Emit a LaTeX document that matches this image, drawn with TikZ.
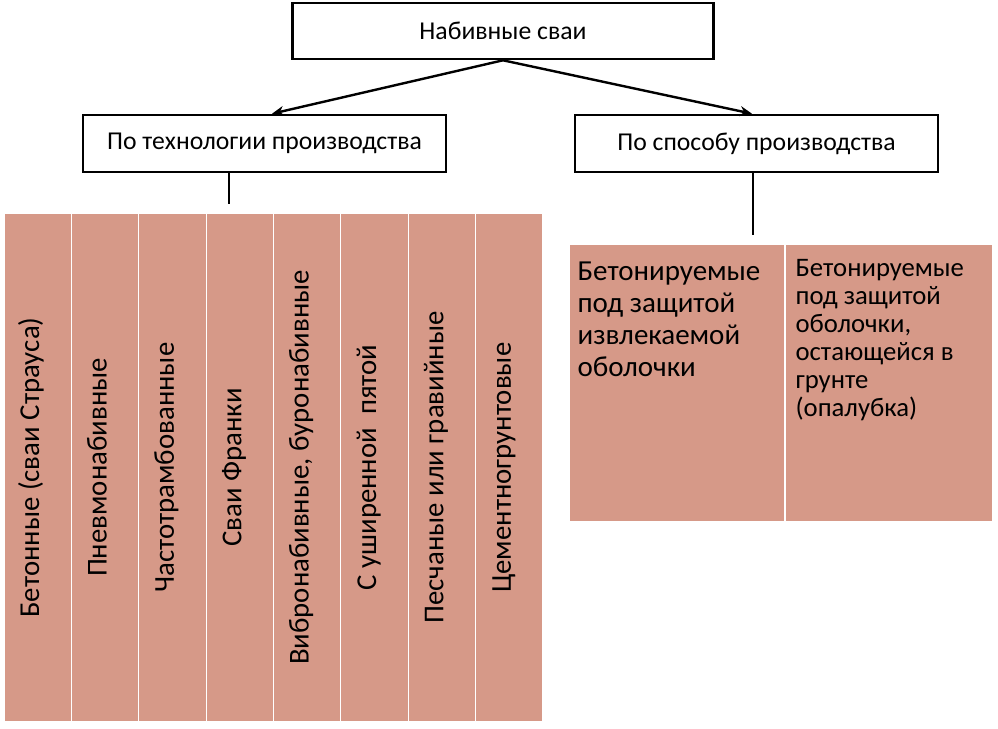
\documentclass[tikz,border=0pt]{standalone}
\usepackage{fontspec}
\setmainfont{Carlito}
\usetikzlibrary{arrows.meta,positioning}
\definecolor{pilesalmon}{RGB}{214,153,136}

\begin{document}
\begin{tikzpicture}[
    x=1pt, y=-1pt,
    catbox/.style={rectangle, draw=black, line width=2.6pt, fill=white, inner sep=0pt, font=\fontsize{25.7}{30}\selectfont},
    pilecol/.style={rectangle, draw=white, line width=1.2pt, fill=pilesalmon, rotate=90, minimum width=509pt, minimum height=67.4pt, inner sep=0pt, text height=21pt, text depth=18pt, font=\fontsize{28.8}{34}\selectfont},
    waycell/.style={rectangle, draw=white, line width=1.2pt, fill=pilesalmon, minimum height=278pt, inner sep=0pt},
    waytext/.style={anchor=north west, inner sep=0pt, align=left},
    link/.style={line width=2.4pt, -{Stealth[length=12pt, width=10pt]}},
    stem/.style={line width=2.6pt}
]
    \useasboundingbox (0,0) rectangle (998,728);

    % Categories
    \node[catbox, minimum width=421pt, minimum height=56pt] (root) at (503,31) {Набивные сваи};
    \node[catbox, minimum width=363pt, minimum height=57pt] (tech) at (264.5,143.5) {По технологии производства};
    \node[catbox, minimum width=363pt, minimum height=57pt] (way) at (756.5,143.5) {По способу производства};

    \draw[link] (root.south) -- ([xshift=7.5pt]tech.north);
    \draw[link] (root.south) -- ([xshift=-4.5pt]way.north);

    % Stems
    \coordinate (techfoot) at (229,204);
    \coordinate (wayfoot) at (753,235);
    \draw[stem] (tech.south -| techfoot) -- (techfoot);
    \draw[stem] (way.south -| wayfoot) -- (wayfoot);

    % Left table
    \foreach \name [count=\i] in {Бетонные (сваи Страуса), Пневмонабивные, Частотрамбованные, Сваи Франки, {Вибронабивные, буронабивные}, С уширенной~ пятой, Песчаные или гравийные, Цементногрунтовые}
        \node[pilecol] (pile\i) at ({4+67.375*(\i-0.5)},467.5) {\name};

    % Right table
    \node[waycell, minimum width=216pt] (pulled) at (677,383) {};
    \node[waycell, minimum width=208pt] (kept) at (889,383) {};
    \node[waytext, font=\fontsize{29}{32.2}\selectfont] (pulledtext) at ([xshift=9pt, yshift=-18pt]pulled.north west)
        {Бетонируемые\\под защитой\\извлекаемой\\оболочки};
    \node[waytext, font=\fontsize{26.7}{28}\selectfont] (kepttext) at ([xshift=11pt, yshift=-16pt]kept.north west)
        {Бетонируемые\\под защитой\\оболочки,\\остающейся в\\грунте\\(опалубка)};
\end{tikzpicture}
\end{document}
